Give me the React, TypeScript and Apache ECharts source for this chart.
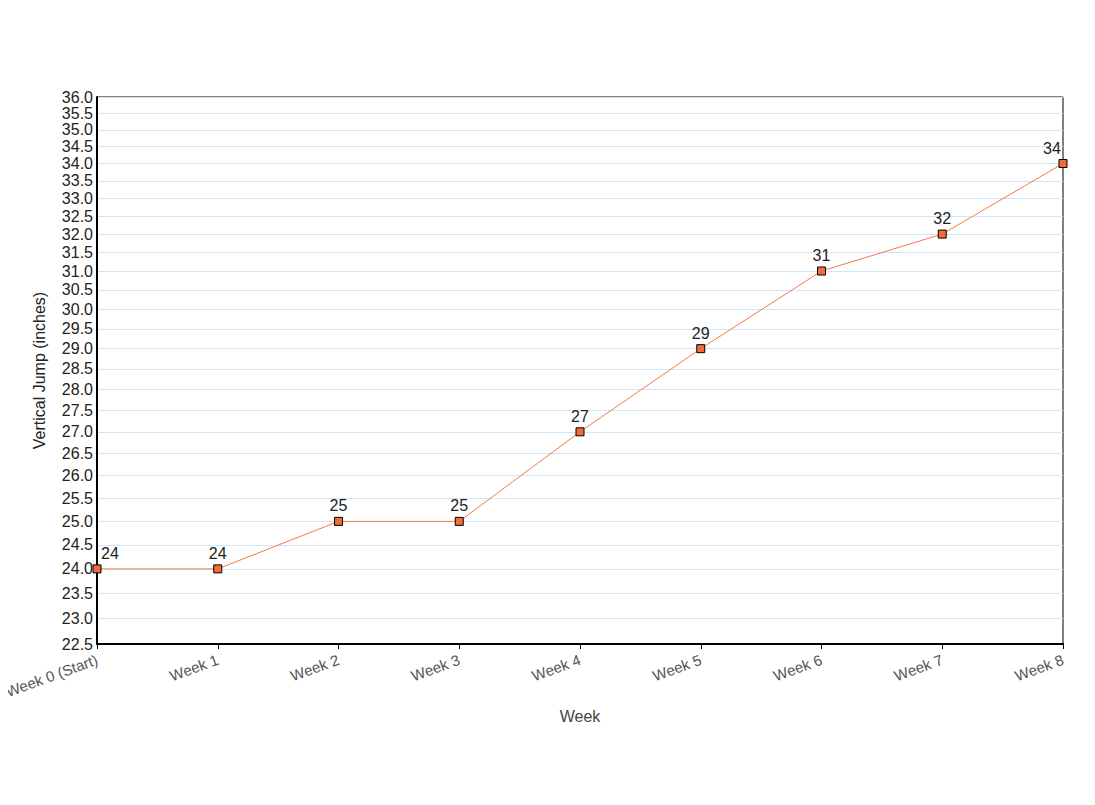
import React, { useEffect, useRef } from "react";
import * as echarts from "echarts";

const weeks = ["Week 0 (Start)", "Week 1", "Week 2", "Week 3", "Week 4", "Week 5", "Week 6", "Week 7", "Week 8"];
const jump = [24, 24, 25, 25, 27, 29, 31, 32, 34];
const yTicks = [
  22.5, 23.0, 23.5, 24.0, 24.5, 25.0, 25.5, 26.0, 26.5, 27.0, 27.5, 28.0, 28.5, 29.0,
  29.5, 30.0, 30.5, 31.0, 31.5, 32.0, 32.5, 33.0, 33.5, 34.0, 34.5, 35.0, 35.5, 36.0,
];
const labelOffsets: Record<number, [number, number]> = { 0: [13, 0], 8: [-11, 0] };

export default function App() {
  const ref = useRef<HTMLDivElement>(null);
  useEffect(() => {
    const chart = echarts.init(ref.current!, null, { renderer: "svg" });
    chart.setOption({
      animation: false,
      backgroundColor: "#fff",
      textStyle: { fontFamily: "Liberation Sans, Arial, sans-serif" },
      grid: {
        left: 97, right: 32, top: 97, bottom: 161,
        containLabel: false,
        outerBoundsMode: "none",
        show: true, borderColor: "#000", borderWidth: 1, backgroundColor: "#fff",
      },
      xAxis: {
        type: "category",
        data: weeks,
        boundaryGap: false,
        name: "Week",
        nameLocation: "middle",
        nameGap: 64,
        nameTextStyle: { color: "#444", fontSize: 16 },
        axisLine: { lineStyle: { color: "#000", width: 2 } },
        axisTick: { show: true, length: 5, lineStyle: { color: "#000" } },
        axisLabel: { rotate: 20, color: "#555", fontSize: 15, margin: 15 },
        splitLine: { show: false },
      },
      yAxis: {
        type: "log",
        min: 22.5,
        max: 36,
        name: "Vertical Jump (inches)",
        nameLocation: "middle",
        nameGap: 50,
        nameTextStyle: { color: "#222", fontSize: 16 },
        axisLine: { show: true, lineStyle: { color: "#000", width: 2 } },
        axisTick: { show: false, customValues: yTicks },
        axisLabel: {
          customValues: yTicks,
          color: "#222",
          fontSize: 16,
          margin: 4,
          formatter: (v: number) => Number(v).toFixed(1),
        },
        splitLine: { show: true, lineStyle: { color: "#cde6fb", width: 1 } },
      },
      series: [
        {
          type: "line",
          data: jump.map((v, i) =>
            labelOffsets[i] ? { value: v, label: { offset: labelOffsets[i] } } : v
          ),
          symbol: "rect",
          symbolSize: 8,
          lineStyle: { color: "#f47a45", width: 1 },
          itemStyle: { color: "#f26b3a", borderColor: "#000", borderWidth: 1 },
          label: { show: true, position: "top", distance: 3, color: "#222", fontSize: 16 },
        },
      ],
    });
    return () => chart.dispose();
  }, []);
  return <div ref={ref} style={{ width: 1095, height: 805, margin: -8 }} />;
}
